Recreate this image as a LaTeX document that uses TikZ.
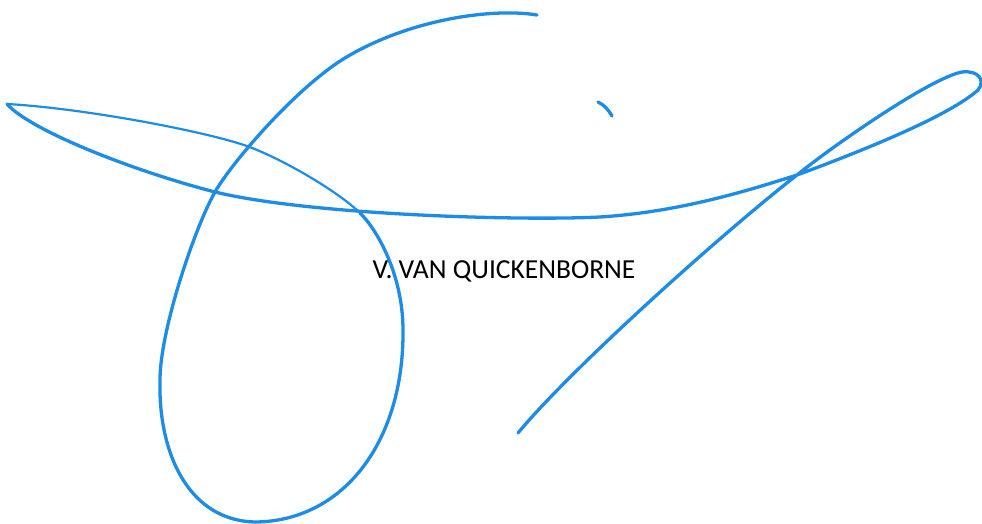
\documentclass[tikz,border=0pt]{standalone}
\usepackage{fontspec}
\setmainfont{Carlito}
\usepackage{tikz}
\definecolor{inkblue}{RGB}{28,140,232}
\tikzset{ink/.style={draw=inkblue, line width=3.3pt, line cap=round, line join=round}}

\begin{document}
\begin{tikzpicture}[x=1pt, y=-1pt]
		%%%%% START %%%%%
		\useasboundingbox (0, 0) rectangle (982, 524);
		
		% big oval, from the top end down and round
		\draw[ink] (537,15) .. controls (495,8) and (415,18) .. (350,55)
			.. controls (300,83) and (232,162) .. (215,192)
			.. controls (195,227) and (160,330) .. (160,380)
			.. controls (158,455) and (190,522) .. (257,522)
			.. controls (345,520) and (404,440) .. (403,330)
			.. controls (403,280) and (381,234) .. (360,213);
		% thin part back to the left tip
		\draw[ink, line width=2.2pt] (360,213) .. controls (340,193) and (285,160) .. (247,146)
			.. controls (200,130) and (80,108) .. (7,104);
		
		% long stroke to the right loop and down
		\draw[ink] (7,104) .. controls (30,130) and (130,170) .. (215,192)
			.. controls (310,215) and (520,221) .. (600,217)
			.. controls (680,212) and (750,190) .. (797,175)
			.. controls (870,148) and (950,115) .. (978,90)
			.. controls (986,80) and (978,70) .. (962,72)
			.. controls (930,78) and (830,148) .. (797,175)
			.. controls (720,235) and (570,370) .. (518,433);
		
		% the dot
		\draw[ink] (598,102) .. controls (604,105) and (608,109) .. (612,116);
		
		\node[font=\fontsize{27.5}{32}\selectfont] (name) at (504, 271) {V. VAN QUICKENBORNE};
		%%%%% END %%%%%
	\end{tikzpicture}
\end{document}
